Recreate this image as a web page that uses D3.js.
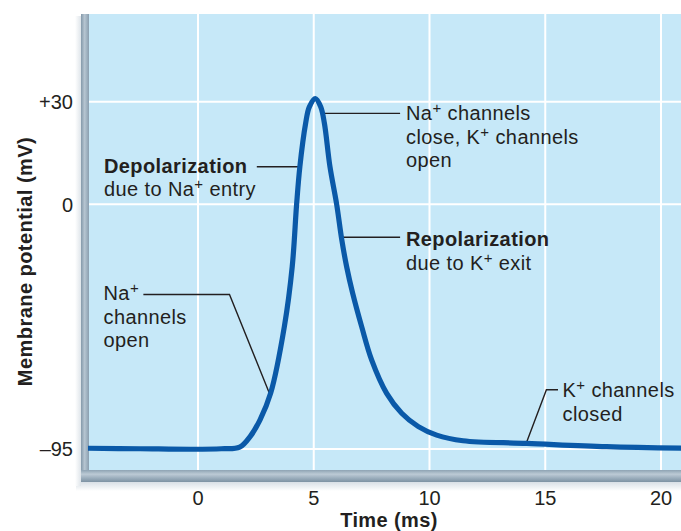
<!DOCTYPE html>
<html>
<head>
<meta charset="utf-8">
<script src="https://cdn.jsdelivr.net/npm/d3@7"></script>
<style>
  html, body { margin: 0; padding: 0; background: #ffffff; }
  svg { display: block; }
  text { font-family: "Liberation Sans", Arial, Helvetica, sans-serif; fill: #231f20; }
</style>
</head>
<body>
<svg id="chart" width="681" height="531"></svg>
<script>
// ---- Data ----
const timeMs      = [-4.8, -2.5, -0.2, 1.0, 1.8, 2.25, 2.68, 3.14, 3.73, 4.07, 4.26, 4.40, 4.65, 4.81, 5.07, 5.30, 5.46, 5.70, 5.99, 6.21, 6.42, 6.68, 7.07, 7.50, 8.15, 8.80, 9.52, 10.31, 11.45, 14.2, 17.65, 21.0];
const potentialMv = [-94.7, -94.9, -95.1, -94.9, -94.3, -90.2, -83.7, -73.3, -47.5, -24.2, 0, 11.0, 23.7, 28.5, 30.9, 28.5, 23.7, 11.0, 0, -13.7, -24.2, -34.5, -47.5, -60.4, -73.4, -81.1, -86.3, -89.6, -91.8, -92.8, -94.1, -94.7];

const xTicks = [0, 5, 10, 15, 20];
const xTickLabels = ["0", "5", "10", "15", "20"];
const yTicks = [-95, 0, 30];
const yTickLabels = ["\u201395", "0", "+30"];

const xTitle = "Time (ms)";
const yTitle = "Membrane potential (mV)";

// ---- Layout ----
const W = 681, H = 531;
const plotLeft = 88, plotRight = 681, plotTop = 14, plotBottom = 470;

const x = d3.scaleLinear().domain([0, 20]).range([198, 661]);
// schematic (piecewise) voltage axis, as in the reference
const y = d3.scaleLinear().domain([-95, 0, 30]).range([449, 204.3, 101.7]);

const svg = d3.select("#chart");
const defs = svg.append("defs");

defs.append("clipPath").attr("id", "plotClip")
  .append("rect").attr("x", plotLeft).attr("y", plotTop)
  .attr("width", plotRight - plotLeft).attr("height", plotBottom - plotTop);

const gL = defs.append("linearGradient").attr("id", "leftBar").attr("x1", "0").attr("x2", "1").attr("y1", "0").attr("y2", "0");
gL.append("stop").attr("offset", "0%").attr("stop-color", "#8499aa");
gL.append("stop").attr("offset", "45%").attr("stop-color", "#b6c5d1");
gL.append("stop").attr("offset", "100%").attr("stop-color", "#8a9fb0");

const gB = defs.append("linearGradient").attr("id", "bottomBar").attr("x1", "0").attr("x2", "0").attr("y1", "0").attr("y2", "1");
gB.append("stop").attr("offset", "0%").attr("stop-color", "#8ea3b3");
gB.append("stop").attr("offset", "35%").attr("stop-color", "#bccad5");
gB.append("stop").attr("offset", "70%").attr("stop-color", "#98abba");
gB.append("stop").attr("offset", "100%").attr("stop-color", "#7d92a3");

const gS = defs.append("linearGradient").attr("id", "shadowB").attr("x1", "0").attr("x2", "0").attr("y1", "0").attr("y2", "1");
gS.append("stop").attr("offset", "0%").attr("stop-color", "#d9e0e6");
gS.append("stop").attr("offset", "100%").attr("stop-color", "#ffffff");
const gS2 = defs.append("linearGradient").attr("id", "shadowL").attr("x1", "1").attr("x2", "0").attr("y1", "0").attr("y2", "0");
gS2.append("stop").attr("offset", "0%").attr("stop-color", "#dfe5ea");
gS2.append("stop").attr("offset", "100%").attr("stop-color", "#ffffff");

// shadows
svg.append("rect").attr("x", 76).attr("y", 482).attr("width", W - 76).attr("height", 9).attr("fill", "url(#shadowB)");
svg.append("rect").attr("x", 75).attr("y", 16).attr("width", 6).attr("height", 470).attr("fill", "url(#shadowL)");

// plot background
svg.append("rect").attr("x", plotLeft).attr("y", plotTop)
  .attr("width", plotRight - plotLeft).attr("height", plotBottom - plotTop)
  .attr("fill", "#c6e8f8");

// grid
const grid = svg.append("g").attr("clip-path", "url(#plotClip)");
grid.selectAll("line.v").data(xTicks).join("line").attr("class", "v")
  .attr("x1", d => x(d)).attr("x2", d => x(d))
  .attr("y1", plotTop).attr("y2", plotBottom)
  .attr("stroke", "#ffffff").attr("stroke-width", 2);
grid.selectAll("line.h").data(yTicks).join("line").attr("class", "h")
  .attr("x1", plotLeft).attr("x2", plotRight)
  .attr("y1", d => y(d)).attr("y2", d => y(d))
  .attr("stroke", "#ffffff").attr("stroke-width", 2);

// axis frame bars
svg.append("rect").attr("x", 81).attr("y", plotTop).attr("width", 8).attr("height", 482 - plotTop).attr("fill", "url(#leftBar)");
svg.append("rect").attr("x", 81).attr("y", plotBottom).attr("width", W - 81).attr("height", 12).attr("fill", "url(#bottomBar)");

// tick labels
svg.selectAll("text.xt").data(xTicks).join("text").attr("class", "xt")
  .attr("x", d => x(d)).attr("y", 505)
  .attr("text-anchor", "middle").attr("font-size", 20)
  .text((d, i) => xTickLabels[i]);
svg.selectAll("text.yt").data(yTicks).join("text").attr("class", "yt")
  .attr("x", 73).attr("y", d => y(d) + 7.3)
  .attr("text-anchor", "end").attr("font-size", 20)
  .text((d, i) => yTickLabels[i]);

// axis titles
svg.append("text").attr("x", 389).attr("y", 527).attr("text-anchor", "middle")
  .attr("font-size", 20).attr("font-weight", "bold").attr("letter-spacing", 0.4).text(xTitle);
svg.append("text").attr("transform", "translate(31.5,261.5) rotate(-90)").attr("text-anchor", "middle")
  .attr("font-size", 20).attr("font-weight", "bold").attr("letter-spacing", 0.45).text(yTitle);

// leader lines (anchored in data units)
const leader = (pts) => svg.append("path")
  .attr("d", d3.line().x(p => x(p[0])).y(p => y(p[1]))(pts))
  .attr("fill", "none").attr("stroke", "#231f20").attr("stroke-width", 1.4);

leader([[5.40, 26.6], [8.73, 26.6]]);             // Na+ channels close
leader([[2.54, 11.0], [4.42, 11.0]]);             // Depolarization
leader([[6.22, -12.8], [8.73, -12.8]]);           // Repolarization
leader([[-2.36, -35.0], [1.36, -35.0], [3.14, -74.6]]); // Na+ channels open
leader([[15.55, -72.0], [15.05, -72.0], [14.17, -93.0]]); // K+ channels closed

// the action potential curve
svg.append("path")
  .attr("clip-path", "url(#plotClip)")
  .attr("d", d3.line().x((d, i) => x(timeMs[i])).y((d, i) => y(potentialMv[i])).curve(d3.curveCatmullRom.alpha(0.5))(timeMs))
  .attr("fill", "none").attr("stroke", "#0a59a8").attr("stroke-width", 5.2)
  .attr("stroke-linejoin", "round").attr("stroke-linecap", "round");

// annotation text: lines are arrays of [text, superscript?] segments
function label(px, baseY, lines, boldFirst) {
  const t = svg.append("text").attr("x", px).attr("y", baseY).attr("font-size", 20).attr("letter-spacing", 0.4);
  lines.forEach((segs, li) => {
    segs.forEach((s, si) => {
      const span = t.append("tspan");
      if (si === 0) span.attr("x", px).attr("dy", li === 0 ? 0 : 23.7);
      if (s.sup) {
        span.attr("font-size", 15).attr("baseline-shift", "45%").text(s.t);
      } else {
        span.text(s.t);
      }
      if (boldFirst && li === 0) span.attr("font-weight", "bold");
    });
  });
}

label(406, 120, [[{t: "Na"}, {t: "+", sup: true}, {t: " channels"}],
                 [{t: "close, K"}, {t: "+", sup: true}, {t: " channels"}],
                 [{t: "open"}]], false);
label(104, 172.7, [[{t: "Depolarization"}],
                   [{t: "due to Na"}, {t: "+", sup: true}, {t: " entry"}]], true);
label(406, 246, [[{t: "Repolarization"}],
                 [{t: "due to K"}, {t: "+", sup: true}, {t: " exit"}]], true);
label(103.5, 300, [[{t: "Na"}, {t: "+", sup: true}],
                   [{t: "channels"}],
                   [{t: "open"}]], false);
label(562.5, 397.3, [[{t: "K"}, {t: "+", sup: true}, {t: " channels"}],
                     [{t: "closed"}]], false);
</script>
</body>
</html>
